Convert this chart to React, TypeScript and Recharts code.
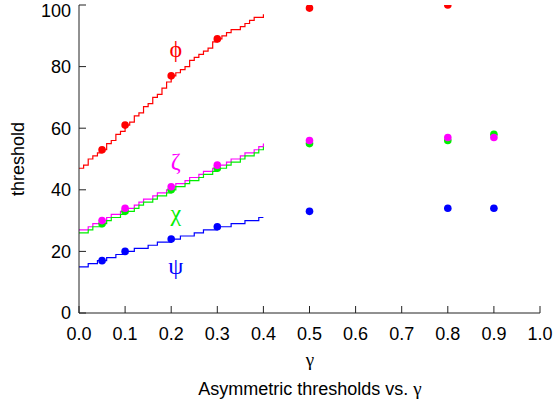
import { ComposedChart, Line, Scatter, XAxis, YAxis, ReferenceDot } from "recharts"

// fine gamma grid for the step curves (0 .. 0.4)
const gammaGrid = [
  0, 0.01, 0.02, 0.03, 0.04, 0.05, 0.06, 0.07, 0.08, 0.09,
  0.1, 0.11, 0.12, 0.13, 0.14, 0.15, 0.16, 0.17, 0.18, 0.19,
  0.2, 0.21, 0.22, 0.23, 0.24, 0.25, 0.26, 0.27, 0.28, 0.29,
  0.3, 0.31, 0.32, 0.33, 0.34, 0.35, 0.36, 0.37, 0.38, 0.39, 0.4,
]
const phiSteps = [
  47, 48, 50, 51, 52, 53, 55, 56, 58, 59,
  61, 62, 64, 65, 67, 68, 70, 71, 73, 75,
  77, 78, 79, 80, 82, 83, 84, 85, 86, 88,
  89, 90, 91, 92, 92, 93, 94, 95, 96, 96, 97,
]
const zetaSteps = [
  27, 27, 28, 29, 29, 30, 31, 32, 32, 33,
  34, 34, 35, 36, 37, 37, 38, 39, 39, 40,
  41, 42, 42, 43, 44, 44, 45, 46, 46, 47,
  48, 48, 49, 50, 50, 51, 52, 52, 53, 54, 55,
]
const chiSteps = [
  26, 26, 27, 28, 28, 29, 30, 31, 31, 32,
  33, 33, 34, 35, 36, 36, 37, 38, 38, 39,
  40, 41, 41, 42, 43, 43, 44, 45, 45, 46,
  47, 47, 48, 49, 49, 50, 51, 51, 52, 53, 54,
]
const psiSteps = [
  15, 15, 16, 16, 17, 17, 18, 18, 19, 19,
  20, 20, 21, 21, 21, 22, 22, 23, 23, 23,
  24, 24, 25, 25, 25, 26, 26, 27, 27, 27,
  28, 28, 28, 29, 29, 29, 30, 30, 30, 31, 31,
]

// measured points
const phiGamma = [0.05, 0.1, 0.2, 0.3, 0.5, 0.8]
const phiPoints = [53, 61, 77, 89, 99, 100]
const gammaPoints = [0.05, 0.1, 0.2, 0.3, 0.5, 0.8, 0.9]
const zetaPoints = [30, 34, 41, 48, 56, 57, 57]
const chiPoints = [29, 33, 40, 47, 55, 56, 58]
const psiPoints = [17, 20, 24, 28, 33, 34, 34]

const xTicks = [0, 0.1, 0.2, 0.3, 0.4, 0.5, 0.6, 0.7, 0.8, 0.9, 1.0]
const yTicks = [0, 20, 40, 60, 80, 100]

const RED = "#ff0000"
const MAGENTA = "#ff00ff"
const GREEN = "#00ee00"
const BLUE = "#0000ff"
const AXIS = "#222"
const SANS = "'Liberation Sans', Arial, sans-serif"
const SERIF = "'Liberation Serif', 'Times New Roman', serif"

const toPoints = (xs: number[], ys: number[]) => xs.map((x, i) => ({ x, y: ys[i] }))

const dot = (color: string) => (props: any) => (
  <circle cx={props.cx} cy={props.cy} r={3.8} fill={color} />
)

const tickStyle = { fontSize: 18, fill: "#000", fontFamily: SANS }

export default function App() {
  const stepLines = [
    { name: "phi", values: phiSteps, color: RED },
    { name: "zeta", values: zetaSteps, color: MAGENTA },
    { name: "chi", values: chiSteps, color: GREEN },
    { name: "psi", values: psiSteps, color: BLUE },
  ]
  const scatters = [
    { name: "zeta-pts", data: toPoints(gammaPoints, chiPoints), color: GREEN },
    { name: "chi-pts", data: toPoints(gammaPoints, zetaPoints), color: MAGENTA },
    { name: "psi-pts", data: toPoints(gammaPoints, psiPoints), color: BLUE },
    { name: "phi-pts", data: toPoints(phiGamma, phiPoints), color: RED },
  ]
  const greek = [
    { text: "ϕ", x: 0.21, y: 86, color: RED },
    { text: "ζ", x: 0.21, y: 49.5, color: MAGENTA },
    { text: "χ", x: 0.21, y: 32.5, color: GREEN },
    { text: "ψ", x: 0.21, y: 15.5, color: BLUE },
  ]

  return (
    <div style={{ position: "absolute", left: 0, top: 0 }}>
      <ComposedChart width={553} height={406} margin={{ top: 5, right: 13, left: 0, bottom: 0 }}>
        <XAxis
          dataKey="x"
          type="number"
          domain={[0, 1]}
          ticks={xTicks}
          tickFormatter={(v: number) => v.toFixed(1)}
          height={93}
          stroke={AXIS}
          tickSize={-7}
          tickMargin={21}
          tick={tickStyle}
          allowDataOverflow
          label={{
            content: () => (
              <g fontFamily={SANS} fill="#000">
                <text x={310} y={366} textAnchor="middle" fontSize={19} fontFamily={SERIF}>γ</text>
                <text x={310} y={395} textAnchor="middle" fontSize={18}>
                  Asymmetric thresholds vs. <tspan fontFamily={SERIF} fontSize={19}>γ</tspan>
                </text>
              </g>
            ),
          }}
        />
        <XAxis
          xAxisId="top"
          orientation="top"
          type="number"
          domain={[0, 1]}
          ticks={xTicks}
          height={0}
          stroke={AXIS}
          tickSize={-7}
          tick={false}
        />
        <YAxis
          type="number"
          domain={[0, 100]}
          ticks={yTicks}
          width={79}
          stroke={AXIS}
          tickSize={-7}
          tickMargin={15}
          tick={tickStyle}
          allowDataOverflow
          label={{
            content: () => (
              <text
                x={18}
                y={159}
                transform="rotate(-90 18 159)"
                textAnchor="middle"
                dominantBaseline="central"
                fontSize={18}
                fontFamily={SANS}
                fill="#000"
              >
                threshold
              </text>
            ),
          }}
        />
        <YAxis
          yAxisId="right"
          orientation="right"
          type="number"
          domain={[0, 100]}
          ticks={yTicks}
          width={0}
          stroke={AXIS}
          tickSize={-7}
          tick={false}
        />
        {stepLines.map((s) => (
          <Line
            key={s.name}
            data={toPoints(gammaGrid, s.values)}
            dataKey="y"
            type="stepAfter"
            stroke={s.color}
            strokeWidth={1.2}
            dot={false}
            isAnimationActive={false}
          />
        ))}
        {scatters.map((s) => (
          <Scatter
            key={s.name}
            data={s.data}
            dataKey="y"
            fill={s.color}
            shape={dot(s.color)}
            isAnimationActive={false}
          />
        ))}
        {greek.map((g) => (
          <ReferenceDot
            key={g.text}
            x={g.x}
            y={g.y}
            r={0}
            stroke="none"
            label={{ value: g.text, position: "center", fill: g.color, fontSize: 24, fontFamily: SERIF }}
          />
        ))}
      </ComposedChart>
    </div>
  )
}
